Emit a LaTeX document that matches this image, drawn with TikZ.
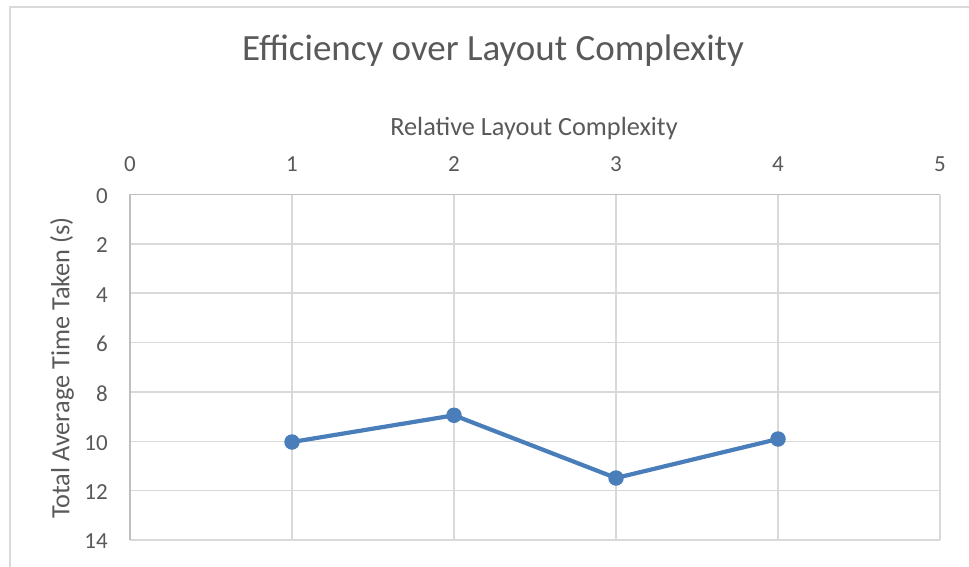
\documentclass[tikz,border=0pt]{standalone}
\usepackage{fontspec}
\setmainfont{Carlito}
\definecolor{txt}{HTML}{595959}
\definecolor{grid}{HTML}{D9D9D9}
\definecolor{axln}{HTML}{BFBFBF}
\definecolor{ser}{HTML}{4A7EBB}
\newcommand{\ticksize}{\fontsize{23}{25}\selectfont}
\begin{document}
\begin{tikzpicture}[x=1pt,y=-1pt,
  ticklab/.style={text=txt,inner sep=0pt},
  axtitle/.style={text=txt,font=\fontsize{26.3}{30}\selectfont},
  gridln/.style={draw=grid,line width=1.5pt},
  dot/.style={circle,fill=ser,inner sep=0pt,minimum size=15.5pt}]
\useasboundingbox (0,0) rectangle (969,567);
\begin{scope}
\clip (0,0) rectangle (969,567);
\draw[grid,line width=1.8pt] (10,7) rectangle (990,600);
\end{scope}
% grid
\foreach \i in {1,...,5} \draw[gridln] (130+162*\i,194.5) -- (130+162*\i,540);
\foreach \j in {1,...,7} \draw[gridln] (130,194.5+49.36*\j) -- (940,194.5+49.36*\j);
\draw[axln,line width=1.5pt] (130,540) -- (130,194.5) -- (940,194.5);
% tick labels
\foreach \i in {0,...,5} \node[ticklab] (xt\i) at (130+162*\i,164) {\ticksize\i};
\foreach \j/\v in {0/0,1/2,2/4,3/6,4/8,5/10,6/12,7/14}
  \node[ticklab,anchor=east] (yt\j) at (108,196+49.36*\j) {\ticksize\v};
% titles
\node[text=txt,font=\fontsize{37}{42}\selectfont] (title) at (493,51) {Efficiency over Layout Complexity};
\node[axtitle] (xtitle) at (534,128) {Relative Layout Complexity};
\node[axtitle,rotate=90] (ytitle) at (62,368) {Total Average Time Taken (s)};
% series
\coordinate (p1) at (292,442);
\coordinate (p2) at (454,415.3);
\coordinate (p3) at (616,478);
\coordinate (p4) at (778,439);
\draw[ser,line width=4.2pt,line join=round] (p1) -- (p2) -- (p3) -- (p4);
\foreach \k in {1,...,4} \node[dot] (m\k) at (p\k) {};
\end{tikzpicture}
\end{document}
